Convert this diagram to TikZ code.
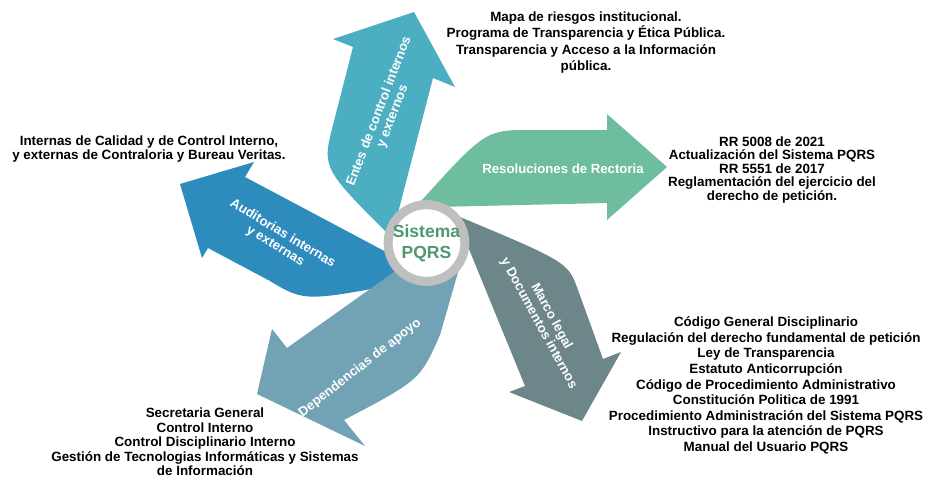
\documentclass[tikz,border=0pt]{standalone}
\usepackage{fontspec}
\setmainfont{Liberation Sans}
\usepackage{tikz}
\usetikzlibrary{positioning,calc}
\definecolor{pqGreen}{HTML}{6DBD9E}
\definecolor{pqTeal}{HTML}{4BAEC1}
\definecolor{pqBlue}{HTML}{2E8BBD}
\definecolor{pqSteel}{HTML}{72A3B5}
\definecolor{pqSlate}{HTML}{6C868A}
\definecolor{pqRing}{HTML}{BFBFBF}
\definecolor{pqText}{HTML}{4E9870}
\tikzset{
    pqArrow/.style={fill=#1, draw=none},
    % Texts
    pqLabel/.style={
        text=white,
        font=\fontsize{13.2}{14.5}\selectfont\bfseries,
        align=center,
        inner sep=0pt
    },
    pqNote/.style={
        text=black,
        font=\fontsize{13.4}{#1}\selectfont\bfseries,
        align=center,
        inner sep=0pt
    },
    pqHub/.style={
        circle,
        draw=pqRing,
        line width=9pt,
        fill=white,
        minimum size=76pt,
        inner sep=0pt,
        text=pqText,
        font=\fontsize{17.5}{21}\selectfont\bfseries,
        align=center
    }
}
\begin{document}
\begin{tikzpicture}[x=1pt, y=-1pt]
\useasboundingbox (0,0) rectangle (927,479);

% Arrows
\fill[pqArrow=pqGreen] (435,207) -- (607,203) -- (607,220) -- (667,167) -- (607,114) -- (607,130)
    -- (530,130) .. controls (485,130) .. (413,210) -- (426,243) -- cycle;
\fill[pqArrow=pqTeal] (392,236) -- (433,78) -- (455,87) -- (414,12) -- (333,39) -- (353,47)
    -- (333,125) .. controls (322,168) .. (392,238) -- cycle;
\fill[pqArrow=pqBlue] (405,262) -- (245,177) -- (254,162) -- (180,184) -- (202,258) -- (208,248)
    -- (270,281) .. controls (305,302) .. (418,280) -- cycle;
\fill[pqArrow=pqSteel] (408,262) -- (287,348) -- (272,329) -- (257,394) -- (365,446) -- (344,420)
    .. controls (420,380) .. (440,335) -- (463,255) -- cycle;
\fill[pqArrow=pqSlate] (462,232) -- (525,386) -- (509,392) -- (582,421) -- (621,352) -- (603,359)
    -- (578,290) .. controls (568,262) .. (448,212) -- cycle;

\node[pqHub] (hub) at (426.5,243) {Sistema\\PQRS};

\node[pqLabel, rotate=69] (entes) at (386,114) {Entes de control internos\\y externos};
\node[pqLabel] (resol) at (563,169) {Resoluciones de Rectoria};
\node[pqLabel, rotate=-31] (audit) at (279,240) {Auditorias internas\\y externas};
\node[pqLabel, rotate=-61.5] (marco) at (545,320) {Marco legal\\y Documentos internos};
\node[pqLabel, rotate=38] (apoyo) at (360,368) {Dependencias de apoyo};

\node[pqNote=16.4] (mapa) at (586,42.5) {Mapa de riesgos institucional.\\Programa de Transparencia y Ética Pública.\\Transparencia y Acceso a la Información\\pública.};
\node[pqNote=14] (calidad) at (149,149) {Internas de Calidad y de Control Interno,\\y externas de Contraloria y Bureau Veritas.};
\node[pqNote=13.5] (rr) at (772,170) {RR 5008 de 2021\\Actualización del Sistema PQRS\\RR 5551 de 2017\\Reglamentación del ejercicio del\\derecho de petición.};
\node[pqNote=15.6] (codigo) at (766,385.5) {Código General Disciplinario\\Regulación del derecho fundamental de petición\\Ley de Transparencia\\Estatuto Anticorrupción\\Código de Procedimiento Administrativo\\Constitución Politica de 1991\\Procedimiento Administración del Sistema PQRS\\Instructivo para la atención de PQRS\\Manual del Usuario PQRS};
\node[pqNote=14.5] (secre) at (205,442) {Secretaria General\\Control Interno\\Control Disciplinario Interno\\Gestión de Tecnologias Informáticas y Sistemas\\de Información};
\end{tikzpicture}
\end{document}
